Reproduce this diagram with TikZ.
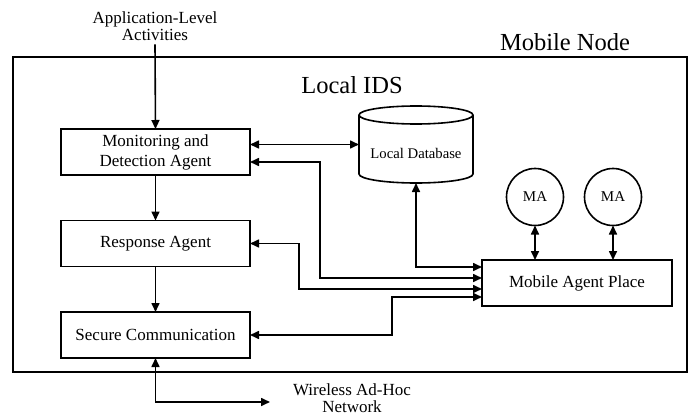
\documentclass[tikz,border=0pt]{standalone}
\usepackage{fontspec}
\setmainfont{Liberation Serif}
\usetikzlibrary{arrows.meta,calc}
\begin{document}
\begin{tikzpicture}[x=1pt,y=-1pt,
  every node/.style={inner sep=0pt,outer sep=0pt},
  ln/.style={line width=1.6pt},
  tip/.style={ln,{Triangle[length=9pt,width=8pt]}-{Triangle[length=9pt,width=8pt]}},
  fwd/.style={ln,-{Triangle[length=9pt,width=8pt]}},
  box/.style={draw,ln,minimum width=189pt,minimum height=46pt,align=center,font=\fontsize{17}{20}\selectfont},
  lbl/.style={align=center,font=\fontsize{17}{17}\selectfont},
  big/.style={font=\fontsize{24.5}{26}\selectfont},
  ma/.style={draw,ln,circle,minimum size=57pt,font=\fontsize{15}{16}\selectfont}]
\useasboundingbox (0,0) rectangle (694,420);
% outer mobile node box
\node[draw,ln,minimum width=674pt,minimum height=315pt] (mn) at (350,214.5) {};
\node[big] (mntxt) at (565,42) {Mobile Node};
\node[big] (ids) at (352,85) {Local IDS};
% boxes
\node[box] (mon) at (155.5,152) {Monitoring and\\Detection Agent};
\node[box] (resp) at (155.5,243.5) {Response Agent};
\node[box] (sec) at (155.5,335) {Secure Communication};
\node[box,minimum width=190pt] (map) at (577,283) {Mobile Agent Place};
\node[ma] (ma1) at (535,197) {MA};
\node[ma] (ma2) at (613,197) {MA};
% database cylinder
\node[minimum width=114pt,minimum height=77pt] (db) at (416,144.5) {};
\draw[ln] (416,115) ellipse [x radius=57, y radius=9];
\draw[ln] (359,115) -- (359,174) arc[start angle=180,end angle=0,x radius=57,y radius=9] -- (473,115);
\node[font=\fontsize{14.7}{16}\selectfont] (dbtxt) at (416,153) {Local Database};
% external labels
\node[lbl] (app) at (155,26) {Application-Level\\Activities};
\node[lbl] (wl) at (352,398) {Wireless Ad-Hoc\\Network};
\coordinate (wlend) at (270,402);
% helper columns
\coordinate (c1) at (320,0);
\coordinate (c2) at (299,0);
\coordinate (c3) at (392,0);
\coordinate (p1) at ([yshift=16pt]map.west);
\coordinate (p2) at ([yshift=5pt]map.west);
\coordinate (p3) at ([yshift=-6pt]map.west);
\coordinate (p4) at ([yshift=-14pt]map.west);
\coordinate (m2) at ([yshift=-10pt]mon.east);
% connectors
\draw[fwd] ([yshift=-4pt]app.south) -- (mon.north);
\draw[fwd] (mon.south) -- (resp.north);
\draw[fwd] (resp.south) -- (sec.north);
\draw[tip] (mon.east |- db.west) -- (db.west);
\draw[tip] (m2) -- (m2 -| c1) |- (p2);
\draw[tip] (resp.east) -- (resp.east -| c2) |- (p3);
\draw[tip] (sec.east) -- (sec.east -| c3) |- (p4);
\draw[tip] (db.south) |- (p1);
\draw[tip] (ma1) -- (ma1 |- map.north);
\draw[tip] (ma2) -- (ma2 |- map.north);
\draw[tip] (sec.south) |- (wlend);
\end{tikzpicture}
\end{document}
